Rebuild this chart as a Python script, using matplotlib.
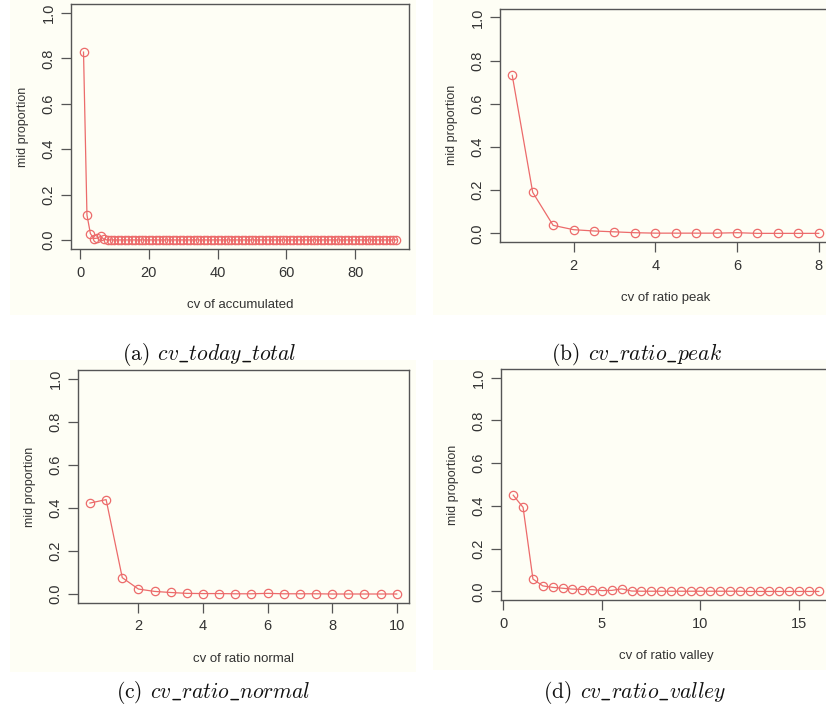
import matplotlib
matplotlib.use('Agg')
import matplotlib.pyplot as plt
from matplotlib.patches import Rectangle
import numpy as np

plt.rcParams['font.family'] = ['Liberation Sans', 'DejaVu Sans']
plt.rcParams['mathtext.fontset'] = 'cm'

# (a) cv of accumulated: x = 1..92
x_a = list(range(1, 93))
y_a = [0.828, 0.11, 0.028, 0.006, 0.008, 0.016, 0.002] + [0.0] * 85

# (b) cv of ratio peak: x = 0.5..8
x_b = [0.5, 1, 1.5, 2, 2.5, 3, 3.5, 4, 4.5, 5, 5.5, 6, 6.5, 7, 7.5, 8]
y_b = [0.731, 0.19, 0.037, 0.017, 0.011, 0.007, 0.003, 0.001,
       0.001, 0.001, 0.001, 0.003, 0.0, 0.0, 0.0, 0.0]

# (c) cv of ratio normal: x = 0.5..10
x_c = [0.5, 1, 1.5, 2, 2.5, 3, 3.5, 4, 4.5, 5, 5.5, 6, 6.5, 7, 7.5, 8,
       8.5, 9, 9.5, 10]
y_c = [0.423, 0.439, 0.076, 0.023, 0.012, 0.007, 0.003, 0.002, 0.002,
       0.001, 0.001, 0.003, 0.001, 0.001, 0.001, 0.0, 0.0, 0.0, 0.0, 0.0]

# (d) cv of ratio valley: x = 0.5..16
x_d = [0.5, 1, 1.5, 2, 2.5, 3, 3.5, 4, 4.5, 5, 5.5, 6, 6.5, 7, 7.5, 8,
       8.5, 9, 9.5, 10, 10.5, 11, 11.5, 12, 12.5, 13, 13.5, 14, 14.5,
       15, 15.5, 16]
y_d = [0.45, 0.393, 0.058, 0.026, 0.019, 0.015, 0.011, 0.009, 0.008,
       0.004, 0.005, 0.012, 0.002, 0.001, 0.001, 0.001, 0.001, 0.001,
       0.001, 0.001, 0.001, 0.001, 0.001, 0.001, 0.0, 0.0, 0.0, 0.0,
       0.0, 0.0, 0.0, 0.0]

panels = [
    (x_a, y_a, [0, 20, 40, 60, 80], 'cv of accumulated',
     r'$\mathrm{(a)}\;\, cv\_today\_total$'),
    (x_b, y_b, [2, 4, 6, 8], 'cv of ratio peak',
     r'$\mathrm{(b)}\;\, cv\_ratio\_peak$'),
    (x_c, y_c, [2, 4, 6, 8, 10], 'cv of ratio normal',
     r'$\mathrm{(c)}\;\, cv\_ratio\_normal$'),
    (x_d, y_d, [0, 5, 10, 15], 'cv of ratio valley',
     r'$\mathrm{(d)}\;\, cv\_ratio\_valley$'),
]

# pixel boxes: left, top, right, bottom of plot region
boxes = [(71, 4, 409, 249), (500, 8.7, 831, 242),
         (77.7, 370.4, 409, 602.6), (501, 369, 831, 600)]
creams = [(10, 0, 416, 315), (433, 0, 826, 315),
          (10, 360, 416, 672), (433, 360, 826, 670)]
captions = [(209, 355), (637, 355), (213, 693), (635, 693)]

W, H = 826, 711
fig = plt.figure(figsize=(W / 100, H / 100), dpi=100)
fig.patch.set_facecolor('white')

for cx0, cy0, cx1, cy1 in creams:
    fig.patches.append(Rectangle((cx0 / W, 1 - cy1 / H), (cx1 - cx0) / W,
                                 (cy1 - cy0) / H, transform=fig.transFigure,
                                 facecolor='#fefef5', edgecolor='none', zorder=-5))

red = '#ec6b6b'
gray = '#555555'
for (xs, ys, xt, xl, cap), (l, t, r, b), (capx, capy) in zip(panels, boxes, captions):
    ax = fig.add_axes([l / W, 1 - b / H, (r - l) / W, (b - t) / H])
    ax.set_facecolor('#fefef5')
    ax.plot(xs, ys, color=red, lw=0.9, marker='o', ms=6, mfc='none',
            mec=red, mew=0.9)
    rng = max(xs) - min(xs)
    ax.set_xlim(min(xs) - 0.04 * rng, max(xs) + 0.04 * rng)
    ax.set_ylim(-0.04, 1.04)
    ax.set_xticks(xt)
    ax.set_yticks([0, 0.2, 0.4, 0.6, 0.8, 1.0])
    ax.set_yticklabels(['0.0', '0.2', '0.4', '0.6', '0.8', '1.0'],
                       rotation=90, va='center')
    ax.tick_params(direction='out', length=7, width=0.9, color=gray,
                   labelcolor='#333333', labelsize=10.5)
    ax.tick_params(axis='y', pad=4)
    ax.tick_params(axis='x', pad=5)
    for s in ax.spines.values():
        s.set_color(gray)
        s.set_linewidth(1.0)
    ax.set_xlabel(xl, fontsize=9.5, color='#333333', labelpad=14)
    ax.set_ylabel('mid proportion', fontsize=9, color='#333333', labelpad=9)
    fig.text(capx / W, 1 - capy / H, cap, ha='center', va='center',
             fontsize=15.5, color='#111111')

fig.savefig('out.png', dpi=100)
